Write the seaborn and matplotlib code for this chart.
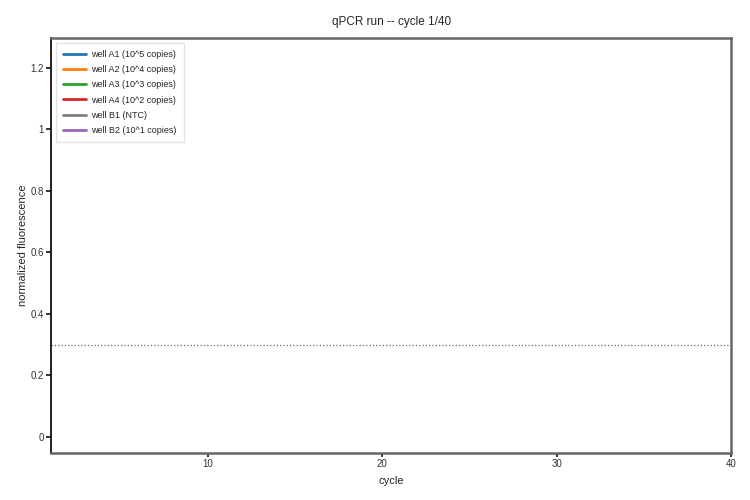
import matplotlib
matplotlib.use("Agg")
import matplotlib.pyplot as plt
import seaborn as sns
import pandas as pd

# Data: run shown at cycle 1 of 40
wells = ["well A1 (10^5 copies)", "well A2 (10^4 copies)", "well A3 (10^3 copies)",
         "well A4 (10^2 copies)", "well B1 (NTC)", "well B2 (10^1 copies)"]
colors = ["#1f77b4", "#ff7f0e", "#2ca02c", "#d62728", "#7f7f7f", "#9467bd"]
cycles = [1, 1, 1, 1, 1, 1]
fluor = [0.02, 0.02, 0.02, 0.02, 0.02, 0.02]
threshold = 0.3
n_cycles = 40
current_cycle = 1

dat = pd.DataFrame({"well": wells, "cycle": cycles, "fluor": fluor})

sns.set_style("white", {"xtick.bottom": True, "ytick.left": True,
                        "xtick.direction": "out", "ytick.direction": "out"})
plt.rcParams['font.family'] = ['Liberation Sans', 'DejaVu Sans']

fig, ax = plt.subplots(figsize=(7.5, 5), dpi=100)
fig.subplots_adjust(left=0.068, right=0.975, top=0.924, bottom=0.094)

sns.lineplot(data=dat, x="cycle", y="fluor", hue="well", hue_order=wells,
             palette=dict(zip(wells, colors)), linewidth=2, ax=ax)
ax.axhline(threshold, color="#666666", linestyle=":", linewidth=0.9)

ax.set_xlim(1, n_cycles)
ax.set_ylim(-0.052, 1.297)
ax.set_xticks([10, 20, 30, 40])
ax.set_yticks([0, 0.2, 0.4, 0.6, 0.8, 1.0, 1.2])
ax.set_yticklabels(["0", "0.2", "0.4", "0.6", "0.8", "1", "1.2"])
ax.xaxis.set_tick_params(which="major", bottom=True, labelsize=7, length=3,
                         width=1.2, pad=1.5, color="#111111", labelcolor="#333333")
ax.yaxis.set_tick_params(which="major", left=True, labelsize=7, length=3.5,
                         width=1.2, pad=1.5, color="#111111", labelcolor="#333333")

for side in ["top", "right", "bottom"]:
    ax.spines[side].set_color("#666666")
    ax.spines[side].set_linewidth(1.8)
ax.spines["left"].set_color("#111111")
ax.spines["left"].set_linewidth(1.3)

ax.set_title(f"qPCR run -- cycle {current_cycle}/{n_cycles}", fontsize=8.5, pad=9)
ax.set_xlabel("cycle", fontsize=8, labelpad=5)
ax.set_ylabel("normalized fluorescence", fontsize=8, labelpad=2)

leg = ax.legend(loc="upper left", fontsize=6.5, frameon=True, fancybox=False,
                borderpad=0.8, handlelength=2.5, labelspacing=0.68,
                borderaxespad=0.55, handletextpad=0.6)
leg.get_frame().set_edgecolor("#dddddd")
leg.get_frame().set_linewidth(1)

plt.savefig("out.png", dpi=100)
